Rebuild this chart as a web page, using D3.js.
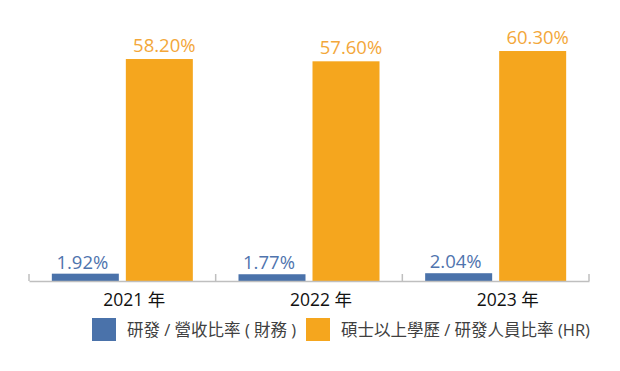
<!DOCTYPE html>
<html>
<head>
<meta charset="utf-8">
<script src="https://cdn.jsdelivr.net/npm/d3@7"></script>
<style>
  body { margin: 0; background: #fff; }
  svg text { font-family: "Open Sans", "Noto Sans CJK TC", sans-serif; }
</style>
</head>
<body>
<svg id="chart"></svg>
<script>
var width = 620;
var height = 371;

var years = ["2021 年", "2022 年", "2023 年"];
var seriesKeys = ["rd", "hr"];
var seriesNames = ["研發 / 營收比率 ( 財務 )", "碩士以上學歷 / 研發人員比率 (HR)"];
var rdRatio = [1.92, 1.77, 2.04];
var hrRatio = [58.20, 57.60, 60.30];
var colors = ["#4a72aa", "#f5a61e"];
var labelColors = ["#4f74ae", "#f3a73a"];

var data = years.map((y, i) => ({year: y, rd: rdRatio[i], hr: hrRatio[i]}));

var svg = d3.select("#chart")
    .attr("width", width)
    .attr("height", height);

var x = d3.scaleBand()
    .domain(years)
    .range([29, 589]);

var x1 = d3.scaleBand()
    .domain(seriesKeys)
    .range([0, x.bandwidth()])
    .paddingInner(0.0946)
    .paddingOuter(0.3085);

var y = d3.scaleLinear()
    .domain([0, 70])
    .range([281, 281 - 70 * 3.814]);

var color = d3.scaleOrdinal().domain(seriesKeys).range(colors);
var labelColor = d3.scaleOrdinal().domain(seriesKeys).range(labelColors);

// bars
var groups = svg.append("g")
  .selectAll("g")
  .data(data)
  .enter()
  .append("g")
    .attr("transform", d => "translate(" + x(d.year) + ",0)");

groups.selectAll("rect")
  .data(d => seriesKeys.map(k => ({key: k, value: d[k]})))
  .enter()
  .append("rect")
    .attr("x", d => x1(d.key))
    .attr("y", d => y(d.value))
    .attr("width", x1.bandwidth())
    .attr("height", d => y(0) - y(d.value))
    .attr("fill", d => color(d.key));

groups.selectAll("text.val")
  .data(d => seriesKeys.map(k => ({key: k, value: d[k]})))
  .enter()
  .append("text")
    .attr("class", "val")
    .attr("x", d => x1(d.key) + x1.bandwidth() / 2 + (d.key === "hr" ? 5 : -3))
    .attr("y", d => y(d.value) - (d.key === "hr" ? 7 : 5))
    .attr("text-anchor", "middle")
    .attr("font-size", 18.5)
    .attr("fill", d => labelColor(d.key))
    .text(d => d.value.toFixed(2) + "%");

// axis
var xAxis = d3.axisBottom(x).tickSize(0).tickPadding(10);
var axisG = svg.append("g")
    .attr("transform", "translate(0," + y(0) + ")")
    .call(xAxis);
axisG.select(".domain").attr("stroke", "#bfbfbf").attr("stroke-width", 1.5);
axisG.selectAll(".tick text")
    .attr("font-size", 17.5)
    .attr("fill", "#111")
    .attr("dx", 12)
    .attr("dy", "0.85em");

var edges = years.map(d => x(d)).concat([x.range()[1]]);
axisG.selectAll("line.edge")
  .data(edges)
  .enter()
  .append("line")
    .attr("class", "edge")
    .attr("x1", d => d).attr("x2", d => d)
    .attr("y1", 0).attr("y2", -7)
    .attr("stroke", "#bfbfbf")
    .attr("stroke-width", 1.5);

// legend
var legendX = [92, 306];
var legend = svg.append("g")
  .selectAll("g")
  .data(seriesKeys)
  .enter()
  .append("g")
    .attr("transform", (d, i) => "translate(" + legendX[i] + ",318)");

legend.append("rect")
    .attr("width", 24)
    .attr("height", 23)
    .attr("fill", d => color(d));

legend.append("text")
    .attr("x", 35)
    .attr("y", 12)
    .attr("dy", "0.35em")
    .attr("font-size", 16.5)
    .attr("fill", "#404040")
    .text((d, i) => seriesNames[i]);
</script>
</body>
</html>
